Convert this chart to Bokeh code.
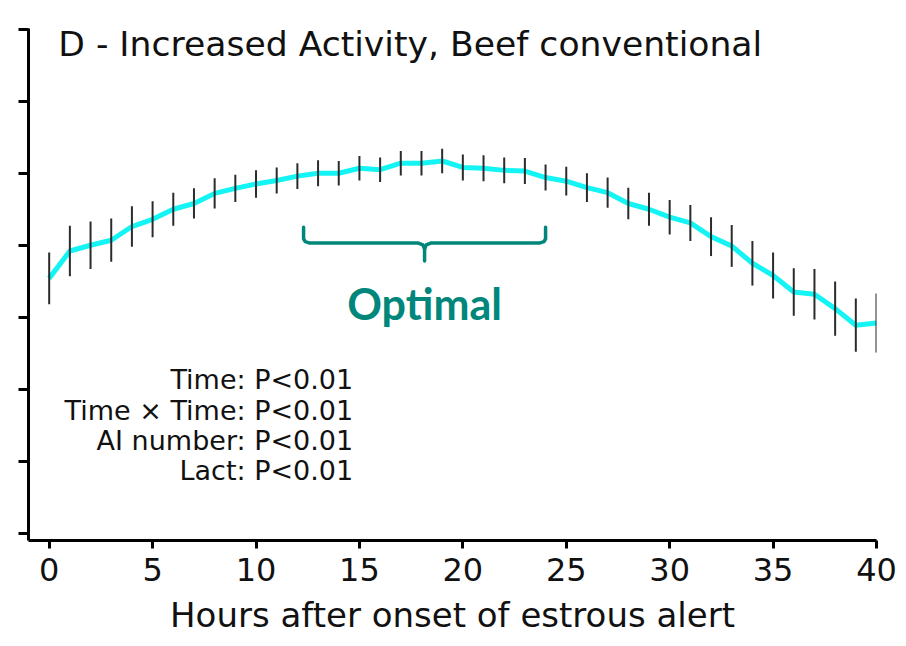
from bokeh.plotting import figure
from bokeh.models import Range1d, FixedTicker, Label
from bokeh.embed import file_html
from bokeh.resources import INLINE

# ---- data ----
hours = list(range(0, 41))
activity = [35.4, 39.2, 40.0, 40.7, 42.6, 43.6, 45.0, 45.8, 47.2, 47.9,
            48.5, 49.0, 49.6, 50.0, 50.0, 50.7, 50.5, 51.4, 51.4, 51.7,
            50.8, 50.7, 50.4, 50.3, 49.4, 48.9, 48.0, 47.3, 45.8, 45.0,
            43.9, 43.1, 41.2, 39.9, 37.5, 35.8, 33.5, 33.2, 31.2, 28.9, 29.2]
sem = [3.6, 3.5, 3.3, 3.0, 2.8, 2.5, 2.3, 2.1, 2.1, 1.9,
       1.9, 1.8, 1.8, 1.8, 1.7, 1.7, 1.7, 1.7, 1.7, 1.7,
       1.8, 1.8, 1.8, 1.8, 1.8, 2.0, 2.0, 2.1, 2.2, 2.3,
       2.4, 2.5, 2.7, 2.9, 3.1, 3.2, 3.3, 3.5, 3.75, 3.7, 4.1]
x_ticks = [0, 5, 10, 15, 20, 25, 30, 35, 40]
y_ticks = [0, 10, 20, 30, 40, 50, 60, 70]
stats_lines = ["Time: P<0.01", "Time \u00d7 Time: P<0.01", "AI number: P<0.01", "Lact: P<0.01"]
title_text = "D - Increased Activity, Beef conventional"
x_title = "Hours after onset of estrous alert"
optimal_window = [12.3, 24.0]   # hours
optimal_label = "Optimal"

lower = [m - s for m, s in zip(activity, sem)]
upper = [m + s for m, s in zip(activity, sem)]

FONT = "DejaVu Sans"
TEAL = "#00867A"
INK = "#111111"

p = figure(frame_width=848, frame_height=512,
           x_range=Range1d(-1.0, 40.0), y_range=Range1d(-1.0, 70.1),
           output_backend="svg", toolbar_location=None,
           min_border_left=28, min_border_right=28, min_border_top=28, min_border_bottom=106)
p.outline_line_color = None
p.xgrid.visible = False
p.ygrid.visible = False
p.background_fill_color = "white"

# axes
p.xaxis.ticker = FixedTicker(ticks=x_ticks)
p.yaxis.ticker = FixedTicker(ticks=y_ticks)
for ax in (p.xaxis, p.yaxis):
    ax.axis_line_width = 3
    ax.axis_line_color = "black"
    ax.major_tick_line_width = 3
    ax.major_tick_line_color = "black"
    ax.major_tick_in = 0
    ax.minor_tick_line_color = None
p.xaxis.major_tick_out = 8
p.yaxis.major_tick_out = 10
p.yaxis.major_label_overrides = {t: "" for t in y_ticks}
p.yaxis.major_label_standoff = 0
p.xaxis.major_label_text_font = FONT
p.xaxis.major_label_text_font_size = "32px"
p.xaxis.major_label_text_color = INK
p.xaxis.major_label_standoff = 9
p.xaxis.axis_label = x_title
p.xaxis.axis_label_text_font = FONT
p.xaxis.axis_label_text_font_size = "34px"
p.xaxis.axis_label_text_font_style = "normal"
p.xaxis.axis_label_text_color = INK
p.xaxis.axis_label_standoff = 11

# series
p.line(hours, activity, line_color="#14F4F4", line_width=5)
p.segment(x0=hours, y0=lower, x1=hours, y1=upper, line_color="#2b2b2b", line_width=2)

# title
p.add_layout(Label(x=0.44, y=68.0, text=title_text, text_font=FONT, text_font_size="34.6px",
                   text_color=INK, text_baseline="alphabetic", text_align="left"))

# stats text
stat_y = [21.35, 17.05, 12.95, 8.75]
for t, yy in zip(stats_lines, stat_y):
    p.add_layout(Label(x=14.7, y=yy, text=t, text_font=FONT, text_font_size="27px",
                       text_color=INK, text_baseline="alphabetic", text_align="right"))

# optimal bracket
a, b = optimal_window
mid = (a + b) / 2
yh, ytop, ybot = 40.3, 42.5, 37.8
left_x = [a, a, a + 0.08, a + 0.3, mid - 0.3, mid - 0.08, mid, mid]
left_y = [ytop, yh + 0.6, yh + 0.2, yh, yh, yh - 0.25, yh - 0.8, ybot]
right_x = [mid, mid + 0.08, mid + 0.3, b - 0.3, b - 0.08, b, b]
right_y = [yh - 0.8, yh - 0.25, yh, yh, yh + 0.2, yh + 0.6, ytop]
p.multi_line([left_x, right_x], [left_y, right_y], line_color=TEAL, line_width=3.5,
             line_join="round", line_cap="round")
p.add_layout(Label(x=mid, y=31.9, text=optimal_label, text_font="Lato", text_font_size="43px",
                   text_font_style="bold", text_color=TEAL, text_baseline="alphabetic",
                   text_align="center"))

open("out.html", "w").write(file_html(p, INLINE))
